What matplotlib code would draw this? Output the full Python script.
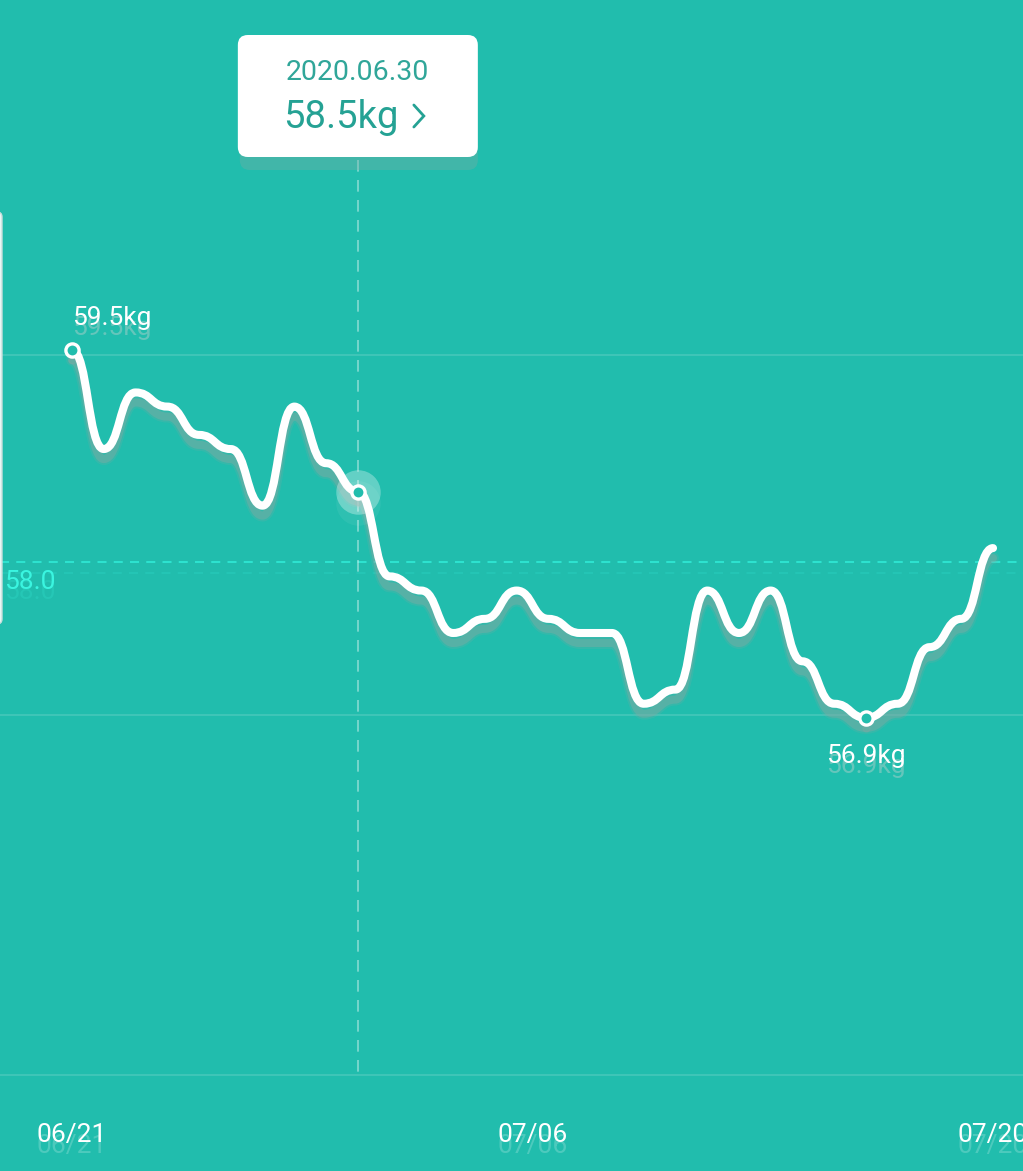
import matplotlib
matplotlib.use("Agg")
import matplotlib.pyplot as plt
import matplotlib.transforms as mtransforms
from matplotlib.path import Path
from matplotlib.patches import PathPatch, FancyBboxPatch
import numpy as np

plt.rcParams['font.family'] = ['Roboto', 'DejaVu Sans']

# ---------------- data ----------------
weights = [59.5, 58.8, 59.2, 59.1, 58.9, 58.8, 58.4, 59.1, 58.7, 58.5,
           57.9, 57.8, 57.5, 57.6, 57.8, 57.6, 57.5, 57.5, 57.0, 57.1,
           57.8, 57.5, 57.8, 57.3, 57.0, 56.9, 57.0, 57.4, 57.6, 58.1]
days = list(range(len(weights)))
tick_pos = [0, 14.5, 29]
tick_labels = ["06/21", "07/06", "07/20"]
grid_values = [59.465, 56.92, 54.376]
avg_value = 58.0
avg_label = "58.0"
sel_index = 9
sel_date = "2020.06.30"
sel_text = "58.5kg"
max_index = 0
min_index = 25

# ---------------- style ----------------
W, H = 1023, 1171
bg = '#21bdad'
shadow = '#7fa9a3'
x0_px, dx_px = 72.0, 31.76      # px of day 0, px per day
y_ref_px, y_ref_val, py_per_kg = 350.0, 59.5, 141.5

fig = plt.figure(figsize=(W / 100, H / 100), dpi=100)
fig.patch.set_facecolor(bg)
ax = fig.add_axes([0, 0, 1, 1])
ax.set_facecolor(bg)
ax.set_xlim(-x0_px / dx_px, (W - x0_px) / dx_px)
ax.set_ylim(y_ref_val - (H - y_ref_px) / py_per_kg, y_ref_val + y_ref_px / py_per_kg)
ax.axis('off')

def shifted(dy_px, dx=0):
    return mtransforms.offset_copy(ax.transData, fig=fig, x=dx, y=-dy_px, units='dots')

# grid lines
for g in grid_values:
    ax.axhline(g, color='white', alpha=0.16, lw=1.2, zorder=1)

# average dashed line + shadow
ax.axhline(avg_value, color='#2fe6d3', lw=1.3, dashes=(5, 4), zorder=2)
ax.plot([-5, 40], [avg_value, avg_value], color='#2fe3d1', lw=1.3, dashes=(5, 4),
        alpha=0.25, transform=shifted(11), zorder=1)
blend = mtransforms.blended_transform_factory(fig.transFigure, ax.transData)
t_avg_y = avg_value - 20 / py_per_kg
ax.text(4 / W, t_avg_y, avg_label, color='#3af5e0', fontsize=19, ha='left', va='center',
        transform=blend, zorder=3)
ax.text(4 / W, t_avg_y - 10 / py_per_kg, avg_label, color='#3af5e0', fontsize=19, ha='left',
        va='center', alpha=0.18, transform=blend, zorder=2)

# selected vertical dashed line
ax.plot([sel_index, sel_index], [y_ref_val + (y_ref_px - 160) / py_per_kg, grid_values[-1]],
        color='white', alpha=0.45, lw=1.2, dashes=(7, 5), zorder=2)

# horizontal-bezier line
verts, codes = [(days[0], weights[0])], [Path.MOVETO]
for i in range(1, len(days)):
    xm = (days[i - 1] + days[i]) / 2
    verts += [(xm, weights[i - 1]), (xm, weights[i]), (days[i], weights[i])]
    codes += [Path.CURVE4] * 3
path = Path(verts, codes)
ax.add_patch(PathPatch(path, fill=False, edgecolor=shadow, alpha=0.22, lw=8.5,
                       capstyle='round', joinstyle='round', transform=shifted(10), zorder=3))
ax.add_patch(PathPatch(path, fill=False, edgecolor=shadow, alpha=0.45, lw=5.8,
                       capstyle='round', joinstyle='round', transform=shifted(10), zorder=3))
ax.add_patch(PathPatch(path, fill=False, edgecolor='white', lw=5.8,
                       capstyle='round', joinstyle='round', zorder=5))

# selected point highlight
ax.plot(days[sel_index], weights[sel_index], 'o', ms=32, color='white', alpha=0.06,
        transform=shifted(11), zorder=4, mew=0)
ax.plot(days[sel_index], weights[sel_index], 'o', ms=32, color='white', alpha=0.3, zorder=6, mew=0)

# ring markers
for idx in (max_index, sel_index, min_index):
    ax.plot(days[idx], weights[idx], 'o', ms=5, color=shadow, alpha=0.35,
            transform=shifted(10), zorder=4)
    ax.plot(days[idx], weights[idx], 'o', ms=9.5, mfc=bg, mec='white', mew=2.4, zorder=7)

# max / min labels with faded reflection
for idx, ha, dy in ((max_index, 'left', 32), (min_index, 'center', -38)):
    txt = f"{weights[idx]}kg"
    ty = weights[idx] + dy / py_per_kg
    ax.text(days[idx], ty, txt, color='#a9cfca', alpha=0.5, fontsize=19, ha=ha, va='center',
            transform=shifted(10), zorder=4)
    ax.text(days[idx], ty, txt, color='white', fontsize=19, ha=ha, va='center', zorder=8)

# x labels with faded reflection
bx = mtransforms.blended_transform_factory(ax.transData, ax.transAxes)
for p, lab in zip(tick_pos, tick_labels):
    ax.text(p, 1 - 1146 / H, lab, color='white', alpha=0.2, fontsize=19, ha='center',
            va='center', transform=bx, zorder=7)
    ax.text(p, 1 - 1135 / H, lab, color='white', fontsize=19, ha='center', va='center',
            transform=bx, zorder=8)

# ---------------- pixel overlay for tooltip & card edge ----------------
ov = fig.add_axes([0, 0, 1, 1], zorder=10)
ov.set_xlim(0, W)
ov.set_ylim(H, 0)
ov.patch.set_alpha(0)
ov.axis('off')

# left card edge
ov.add_patch(FancyBboxPatch((-20, 212), 22, 412, boxstyle="round,pad=0,rounding_size=5",
                            fc='#e9f7f5', ec='#c9dedb', lw=1))

# tooltip
sel_px = x0_px + dx_px * sel_index
ov.add_patch(FancyBboxPatch((sel_px - 118, 47), 238, 123, boxstyle="round,pad=0,rounding_size=10",
                            fc=shadow, ec='none', alpha=0.35))
ov.add_patch(FancyBboxPatch((sel_px - 120, 35), 240, 122, boxstyle="round,pad=0,rounding_size=10",
                            fc='white', ec='none'))
ov.text(sel_px, 72, sel_date, color='#30a699', fontsize=20.5, ha='center', va='center')
ov.text(sel_px + 41, 117, sel_text, color='#25a294', fontsize=27.5, ha='right', va='center')
ov.plot([sel_px + 56, sel_px + 66, sel_px + 56], [105, 116, 127], color='#25a294', lw=2,
        solid_capstyle='round', solid_joinstyle='miter')

fig.savefig("out.png", dpi=100, facecolor=bg)
